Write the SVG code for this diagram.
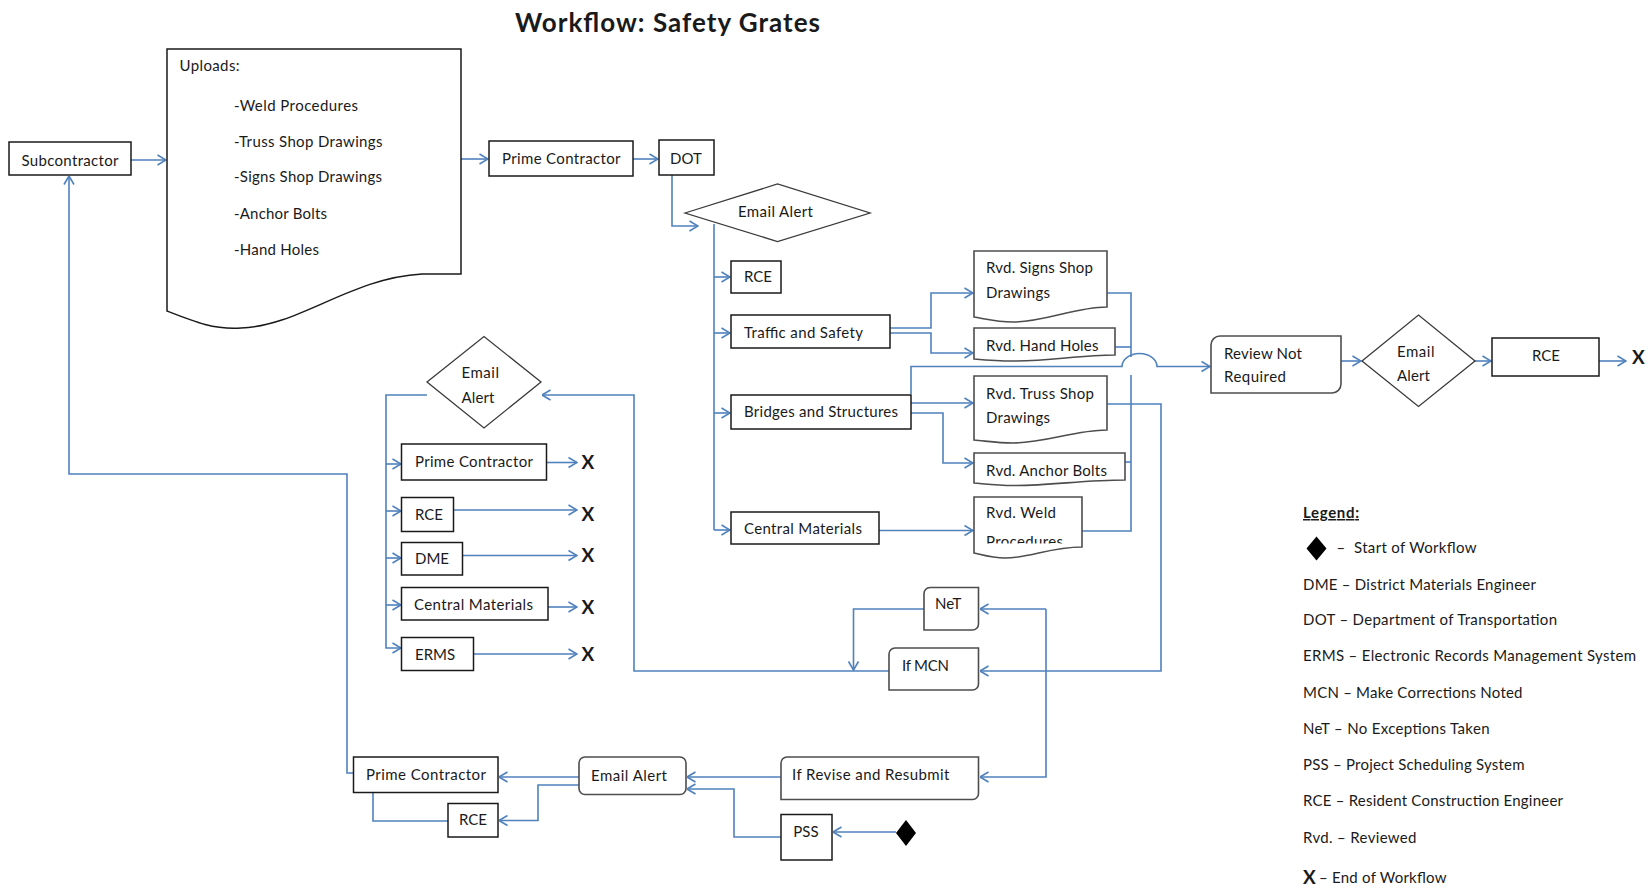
<svg xmlns="http://www.w3.org/2000/svg" width="1648" height="890" viewBox="0 0 1648 890">
  <style>
    text { font-family: Lato, "Liberation Sans", sans-serif; font-size: 15px; fill: #1a1a1a; }
    .title { font-size: 26px; font-weight: bold; }
    .bold { font-weight: bold; }
    .x { font-size: 19px; font-weight: bold; }
    .mid { text-anchor: middle; }
    .box { fill: #ffffff; stroke: #1a1a1a; stroke-width: 1.5; }
    .soft { fill: #ffffff; stroke: #4d4d4d; stroke-width: 1.6; }
    .dia { fill: #ffffff; stroke: #3a3a3a; stroke-width: 1.3; }
    .start { fill: #000000; }
    .wire { fill: none; stroke: #4f81bd; stroke-width: 1.6; }
    .arrow { fill: none; stroke: #4f81bd; stroke-width: 1.6; marker-end: url(#head); }
  </style>
  <defs>
    <marker id="head" viewBox="0 0 10 12" refX="9.5" refY="6" markerWidth="10" markerHeight="12" markerUnits="userSpaceOnUse" orient="auto">
      <path d="M1,1 L9.5,6 L1,11" fill="none" stroke="#4f81bd" stroke-width="1.6"/>
    </marker>
    <!-- the weld box text area ends above the wavy edge, cutting the second line -->
    <clipPath id="weldClip">
      <rect x="974" y="497" width="108" height="46.5"/>
    </clipPath>
  </defs>

  <rect width="1648" height="890" fill="#ffffff"/>

  <text class="title" x="515" y="32" textLength="305">Workflow: Safety Grates</text>

  <!-- connectors -->
  <g id="connectors">
    <path class="arrow" d="M131,160 H166"/>
    <path class="arrow" d="M461,159 H488"/>
    <path class="arrow" d="M633,159 H658"/>
    <path class="arrow" d="M672,175 V226 H698"/>
    <!-- DOT alert trunk -->
    <path class="wire" d="M714,224 V530"/>
    <path class="arrow" d="M714,277 H730"/>
    <path class="arrow" d="M714,333 H730"/>
    <path class="arrow" d="M714,413 H730"/>
    <path class="arrow" d="M714,530 H730"/>
    <!-- Traffic and Safety -->
    <path class="arrow" d="M890,328 H931 V293 H973"/>
    <path class="arrow" d="M890,333 H931 V353 H973"/>
    <!-- Bridges and Structures -->
    <path class="arrow" d="M911,394 V366.5 H1122 A17.5,13 0 0 1 1157,366.5 H1210"/>
    <path class="arrow" d="M911,403 H973"/>
    <path class="arrow" d="M911,413 H943 V463 H973"/>
    <!-- Central Materials -->
    <path class="arrow" d="M879,530.5 H973"/>
    <!-- reviewed documents collector -->
    <path class="wire" d="M1107,293 H1131 V357"/>
    <path class="wire" d="M1131,375 V531 H1082"/>
    <path class="wire" d="M1115,347 H1131"/>
    <path class="wire" d="M1125,462 H1131"/>
    <!-- Truss Shop back to If MCN -->
    <path class="arrow" d="M1107,404 H1161 V671 H980"/>
    <!-- NeT / If Revise feed -->
    <path class="arrow" d="M1046,609 H980"/>
    <path class="arrow" d="M1046,609 V777 H980"/>
    <path class="arrow" d="M924,609 H853.5 V670"/>
    <!-- If MCN back to email alert -->
    <path class="arrow" d="M889,671 H634 V395 H542"/>
    <!-- left email alert trunk -->
    <path class="arrow" d="M427,395 H386 V648 H401"/>
    <path class="arrow" d="M386,464 H401"/>
    <path class="arrow" d="M386,511 H401"/>
    <path class="arrow" d="M386,558 H401"/>
    <path class="arrow" d="M386,605 H401"/>
    <!-- ends of workflow -->
    <path class="arrow" d="M546,462.5 H577"/>
    <path class="arrow" d="M453,510 H577"/>
    <path class="arrow" d="M462,555.5 H577"/>
    <path class="arrow" d="M548,607 H577"/>
    <path class="arrow" d="M473,654 H577"/>
    <!-- right chain -->
    <path class="arrow" d="M1341,361 H1361"/>
    <path class="arrow" d="M1475,361 H1491"/>
    <path class="arrow" d="M1599,361 H1626"/>
    <!-- bottom chain -->
    <path class="arrow" d="M781,777 H687"/>
    <path class="arrow" d="M579,777 H499"/>
    <path class="arrow" d="M579,785 H538 V820.5 H499"/>
    <path class="wire" d="M373,793 V821 H448"/>
    <path class="arrow" d="M781,837 H734 V789 H687"/>
    <path class="arrow" d="M896,832 H833"/>
    <!-- back to Subcontractor -->
    <path class="arrow" d="M353,773 H347 V474 H69 V176"/>
  </g>

  <g id="subcontractor">
    <rect class="box" x="9" y="142" width="122" height="33"/>
    <text x="21.5" y="165.5" textLength="97">Subcontractor</text>
  </g>

  <g id="uploads">
    <path class="box" d="M167,49 H461 V274 H422 C350,278 300,326 241,328 C215,330 195,322 167,311 Z"/>
    <text x="179.5" y="71" textLength="60">Uploads:</text>
    <text x="234" y="110.5" textLength="124">-Weld Procedures</text>
    <text x="234" y="146.5" textLength="148.5">-Truss Shop Drawings</text>
    <text x="234" y="182" textLength="148">-Signs Shop Drawings</text>
    <text x="234" y="218.5" textLength="93">-Anchor Bolts</text>
    <text x="234" y="254.5" textLength="85">-Hand Holes</text>
  </g>

  <g id="prime-contractor-top">
    <rect class="box" x="489" y="141" width="144" height="35"/>
    <text x="502" y="163.5" textLength="118.5">Prime Contractor</text>
  </g>

  <g id="dot">
    <rect class="box" x="659" y="140" width="55" height="35"/>
    <text class="mid" x="686" y="163.5">DOT</text>
  </g>

  <g id="email-alert-dot">
    <path class="dia" d="M685,213 L777.5,184 L870,213 L777.5,241.5 Z"/>
    <text x="738" y="217" textLength="75">Email Alert</text>
  </g>

  <g id="rce-review">
    <rect class="box" x="731" y="261" width="50" height="32"/>
    <text x="744" y="282">RCE</text>
  </g>
  <g id="traffic-safety">
    <rect class="box" x="731" y="315" width="159" height="33"/>
    <text x="744" y="337.5" textLength="119">Traffic and Safety</text>
  </g>
  <g id="bridges-structures">
    <rect class="box" x="731" y="395" width="180" height="34"/>
    <text x="744" y="417" textLength="154">Bridges and Structures</text>
  </g>
  <g id="central-materials-review">
    <rect class="box" x="731" y="512" width="148" height="32"/>
    <text x="744" y="533.5" textLength="118">Central Materials</text>
  </g>

  <g id="rvd-signs">
    <path class="soft" d="M974,251 H1107 V307 C1075,307 1045,322 1013,322 C998,322 986,319 974,317 Z"/>
    <text x="986" y="273" textLength="107">Rvd. Signs Shop</text>
    <text x="986" y="298" textLength="64">Drawings</text>
  </g>
  <g id="rvd-hand-holes">
    <path class="soft" d="M974,328 H1115 V355 C1080,355 1050,361 1013,361 C998,361 986,360 974,359 Z"/>
    <text x="986" y="351" textLength="112.5">Rvd. Hand Holes</text>
  </g>
  <g id="rvd-truss">
    <path class="soft" d="M974,376 H1107 V430 C1075,430 1045,443 1013,443 C998,443 986,441 974,440 Z"/>
    <text x="986" y="399" textLength="108">Rvd. Truss Shop</text>
    <text x="986" y="423" textLength="64">Drawings</text>
  </g>
  <g id="rvd-anchor-bolts">
    <path class="soft" d="M974,453 H1125 V480 C1085,480 1050,485.5 1013,485.5 C998,485.5 986,484 974,483 Z"/>
    <text x="986" y="476" textLength="121">Rvd. Anchor Bolts</text>
  </g>
  <g id="rvd-weld">
    <path class="soft" d="M974,497 H1082 V547 C1050,547 1030,558 1005,558 C992,558 983,555 974,553 Z"/>
    <text x="986" y="518" textLength="70">Rvd. Weld</text>
    <text x="986" y="547" textLength="77" clip-path="url(#weldClip)">Procedures</text>
  </g>

  <g id="review-not-required">
    <path class="soft" d="M1220,336 H1341 V384 A9,9 0 0 1 1332,393 H1211 V345 A9,9 0 0 1 1220,336 Z"/>
    <text x="1224" y="359" textLength="78">Review Not</text>
    <text x="1224" y="382" textLength="62">Required</text>
  </g>
  <g id="email-alert-final">
    <path class="dia" d="M1362,361 L1418.5,315 L1475,361 L1418.5,406.5 Z"/>
    <text x="1397" y="357" textLength="37.5">Email</text>
    <text x="1397" y="381" textLength="33">Alert</text>
  </g>
  <g id="rce-final">
    <rect class="box" x="1492" y="338" width="107" height="38"/>
    <text class="mid" x="1546" y="361">RCE</text>
  </g>
  <text class="x" x="1632" y="364">X</text>

  <g id="email-alert-mcn">
    <path class="dia" d="M427,382 L484,336.5 L541,382 L484,428 Z"/>
    <text x="461.5" y="378" textLength="37.5">Email</text>
    <text x="461.5" y="403" textLength="33">Alert</text>
  </g>
  <g id="prime-contractor-notify">
    <rect class="box" x="401.5" y="444" width="145" height="36"/>
    <text x="415" y="467" textLength="118">Prime Contractor</text>
  </g>
  <g id="rce-notify">
    <rect class="box" x="401.5" y="497.5" width="52" height="34"/>
    <text x="415" y="519.5">RCE</text>
  </g>
  <g id="dme-notify">
    <rect class="box" x="401.5" y="542.5" width="61" height="32.5"/>
    <text x="415" y="564">DME</text>
  </g>
  <g id="central-materials-notify">
    <rect class="box" x="401.5" y="587.5" width="146.5" height="32.5"/>
    <text x="414" y="610" textLength="119">Central Materials</text>
  </g>
  <g id="erms-notify">
    <rect class="box" x="401.5" y="637.5" width="72" height="33"/>
    <text x="415" y="659.5">ERMS</text>
  </g>
  <g id="ends-mcn">
    <text class="x" x="581.5" y="469">X</text>
    <text class="x" x="581.5" y="521">X</text>
    <text class="x" x="581.5" y="562">X</text>
    <text class="x" x="581.5" y="613.5">X</text>
    <text class="x" x="581.5" y="661">X</text>
  </g>

  <g id="net">
    <path class="soft" d="M930,587.5 H978.5 V624 A6,6 0 0 1 972.5,630 H924 V593.5 A6,6 0 0 1 930,587.5 Z"/>
    <text x="935" y="609">NeT</text>
  </g>
  <g id="if-mcn">
    <path class="soft" d="M895,648 H978.5 V684 A6,6 0 0 1 972.5,690 H889 V654 A6,6 0 0 1 895,648 Z"/>
    <text x="902" y="671" textLength="47">If MCN</text>
  </g>
  <g id="if-revise-resubmit">
    <path class="soft" d="M787,757 H978.5 V793.5 A6,6 0 0 1 972.5,799.5 H781 V763 A6,6 0 0 1 787,757 Z"/>
    <text x="792" y="780" textLength="157.5">If Revise and Resubmit</text>
  </g>
  <g id="email-alert-resubmit">
    <rect class="soft" x="579" y="757" width="107" height="37.5" rx="6"/>
    <text x="591" y="781" textLength="76">Email Alert</text>
  </g>
  <g id="prime-contractor-resubmit">
    <rect class="box" x="353.5" y="757" width="144.5" height="35.5"/>
    <text x="366" y="780" textLength="120">Prime Contractor</text>
  </g>
  <g id="rce-resubmit">
    <rect class="box" x="448" y="803.5" width="50" height="33.5"/>
    <text class="mid" x="473" y="825">RCE</text>
  </g>
  <g id="pss">
    <rect class="box" x="781" y="814.5" width="51" height="45.5"/>
    <text class="mid" x="806" y="837">PSS</text>
  </g>
  <g id="start">
    <path class="start" d="M906,820 L916,833 L906,846 L896,833 Z"/>
  </g>

  <g id="legend">
    <text class="bold" x="1303" y="518" textLength="56" text-decoration="underline">Legend:</text>
    <path class="start" d="M1316.5,536.5 L1326.5,548.5 L1316.5,560.5 L1306.5,548.5 Z"/>
    <text x="1336.5" y="553">–</text>
    <text x="1354" y="553" textLength="122.5">Start of Workflow</text>
    <text x="1303" y="590" textLength="233">DME – District Materials Engineer</text>
    <text x="1303" y="625" textLength="254">DOT – Department of Transportation</text>
    <text x="1303" y="661" textLength="333">ERMS – Electronic Records Management System</text>
    <text x="1303" y="697.5" textLength="219.5">MCN – Make Corrections Noted</text>
    <text x="1303" y="734" textLength="186.5">NeT – No Exceptions Taken</text>
    <text x="1303" y="770" textLength="221.5">PSS – Project Scheduling System</text>
    <text x="1303" y="805.5" textLength="260">RCE – Resident Construction Engineer</text>
    <text x="1303" y="842.5" textLength="113.5">Rvd. – Reviewed</text>
    <text class="x" x="1303" y="883.5">X</text>
    <text x="1319" y="883" textLength="127.5">– End of Workflow</text>
  </g>
</svg>
